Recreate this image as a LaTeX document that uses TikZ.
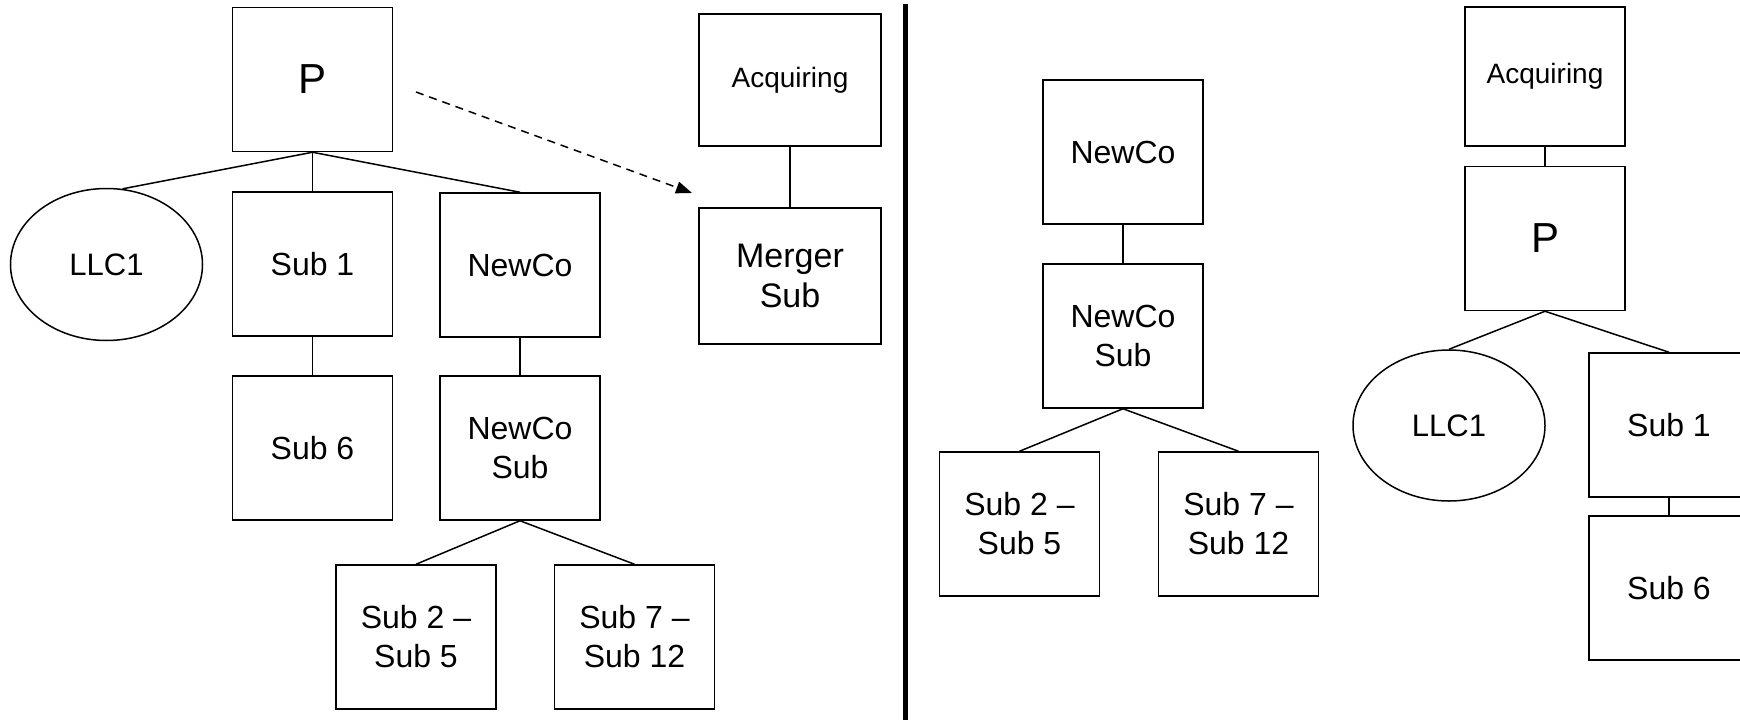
\documentclass[tikz,border=0pt]{standalone}
\usepackage{fontspec}
\setmainfont{Liberation Sans}
\usetikzlibrary{shapes.geometric, arrows.meta}
\tikzset{
  entity/.style={draw, line width=1.5pt, minimum width=160pt, minimum height=144pt,
    inner sep=0pt, align=center, font=\fontsize{32}{39}\selectfont},
  llc/.style={draw, ellipse, line width=1.5pt, minimum width=192pt, minimum height=152pt,
    inner sep=0pt, font=\fontsize{31}{38}\selectfont},
  link/.style={line width=1.5pt},
  heavy link/.style={line width=2.6pt},
  big letter/.style={font=\fontsize{42}{50}\selectfont},
  acq/.style={font=\fontsize{28}{34}\selectfont}
}

\begin{document}
\begin{tikzpicture}[x=1pt, y=-1pt]
  \clip (0,0) rectangle (1740,720);

  % Before
  \node[entity, big letter] (P) at (312.5,79.5) {P};
  \node[llc] (LLC) at (106.5,264.5) {LLC1};
  \node[entity] (S1) at (312.5,264) {Sub 1};
  \node[entity] (N) at (520,265) {NewCo};
  \node[entity] (S6) at (312.5,448) {Sub 6};
  \node[entity] (NS) at (520,448) {NewCo\\Sub};
  \node[entity] (S25) at (416,637) {Sub 2 --\\Sub 5};
  \node[entity] (S712) at (634.5,637) {Sub 7 --\\Sub 12};
  \node[entity, acq, minimum width=182pt, minimum height=132pt] (A) at (790,80) {Acquiring};
  \node[entity, minimum width=182pt, minimum height=136pt,
    font=\fontsize{34}{40}\selectfont] (M) at (790,276) {Merger\\Sub};

  \draw[link] (P.south) -- (LLC.78);
  \draw[link] (P.south) -- (S1.north);
  \draw[link] (P.south) -- (N.north);
  \draw[link] (S1) -- (S6);
  \draw[heavy link] (N) -- (NS);
  \draw[link] (NS.south) -- (S25.north);
  \draw[link] (NS.south) -- (S712.north);
  \draw[link] (A) -- (M);

  \coordinate (moveFrom) at (416,92);
  \coordinate (moveTo) at (692,193);
  \draw[link, dash pattern=on 8pt off 6pt, -{Triangle[length=16pt, width=12pt]}]
    (moveFrom) -- (moveTo);

  % divider
  \draw[line width=5pt] (905,4) -- (905,720);

  % After
  \node[entity] (N2) at (1123,152) {NewCo};
  \node[entity] (NS2) at (1123,336) {NewCo\\Sub};
  \node[entity] (S25b) at (1019.5,524) {Sub 2 --\\Sub 5};
  \node[entity] (S712b) at (1238.5,524) {Sub 7 --\\Sub 12};
  \node[entity, acq, minimum height=139pt] (A2) at (1545,76.5) {Acquiring};
  \node[entity, big letter] (P2) at (1545,238.5) {P};
  \node[llc, minimum height=151pt] (LLC2) at (1449,425.5) {LLC1};
  \node[entity] (S1b) at (1669,425) {Sub 1};
  \node[entity] (S6b) at (1669,588) {Sub 6};

  \draw[heavy link] (N2) -- (NS2);
  \draw[link] (NS2.south) -- (S25b.north);
  \draw[link] (NS2.south) -- (S712b.north);
  \draw[link] (A2) -- (P2);
  \draw[link] (P2.south) -- (LLC2.north);
  \draw[link] (P2.south) -- (S1b.north);
  \draw[link] (S1b) -- (S6b);
\end{tikzpicture}
\end{document}
